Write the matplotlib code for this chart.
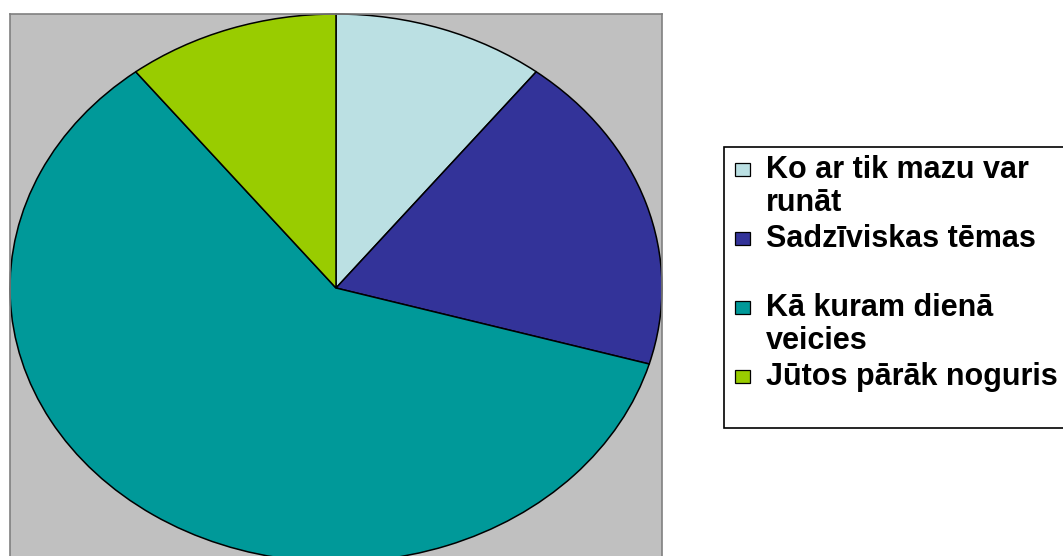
import matplotlib.pyplot as plt
from matplotlib.patches import Rectangle

# answers to the survey question (counts)
labels = ["Ko ar tik mazu var runāt", "Sadzīviskas tēmas",
          "Kā kuram dienā veicies", "Jūtos pārāk noguris"]
legend_lines = [["Ko ar tik mazu var", "runāt"],
                ["Sadzīviskas tēmas", ""],
                ["Kā kuram dienā", "veicies"],
                ["Jūtos pārāk noguris"]]
counts = [10, 18, 57, 10]
colors = ["#BBE0E3", "#333399", "#009999", "#99CC00"]

W, H = 1063, 556
fig = plt.figure(figsize=(W / 100, H / 100), dpi=100)
fig.patch.set_facecolor("white")

# plot area (grey box), pie fills it as an ellipse
ax = fig.add_axes([10 / W, (H - 562) / H, 652 / W, 548 / H])
ax.pie(counts, colors=colors, startangle=90, counterclock=False,
       radius=1, wedgeprops=dict(edgecolor="black", linewidth=1.1))
ax.set_aspect("auto")
ax.set_frame_on(True)
ax.set_xlim(-1, 1)
ax.set_ylim(-1, 1)
ax.set_facecolor("#C0C0C0")
for sp in ax.spines.values():
    sp.set_color("#808080")
    sp.set_linewidth(1.2)
ax.set_xticks([])
ax.set_yticks([])

# legend drawn by hand (frame runs off the right edge like the original)
def px(x, y):
    return x / W, 1 - y / H

fx, fy = px(724, 428)
frame = Rectangle((fx, fy), (W + 20 - 724) / W, (428 - 147) / H,
                  transform=fig.transFigure, facecolor="white",
                  edgecolor="black", linewidth=1.2, clip_on=False)
fig.patches.append(frame)

line_pitch = 33
entry_gap = 3
base = 178
for lines, c in zip(legend_lines, colors):
    sx, sy = px(735, base - 2)
    fig.patches.append(Rectangle((sx, sy), 15 / W, 13 / H,
                                 transform=fig.transFigure, facecolor=c,
                                 edgecolor="black", linewidth=0.9))
    for i, ln in enumerate(lines):
        tx, ty = px(766, base + i * line_pitch)
        fig.text(tx, ty, ln, fontsize=22, fontweight="bold",
                 family=["Liberation Sans", "DejaVu Sans"],
                 va="baseline", ha="left")
    base += len(lines) * line_pitch + entry_gap

fig.savefig("out.png", dpi=100, facecolor="white")
